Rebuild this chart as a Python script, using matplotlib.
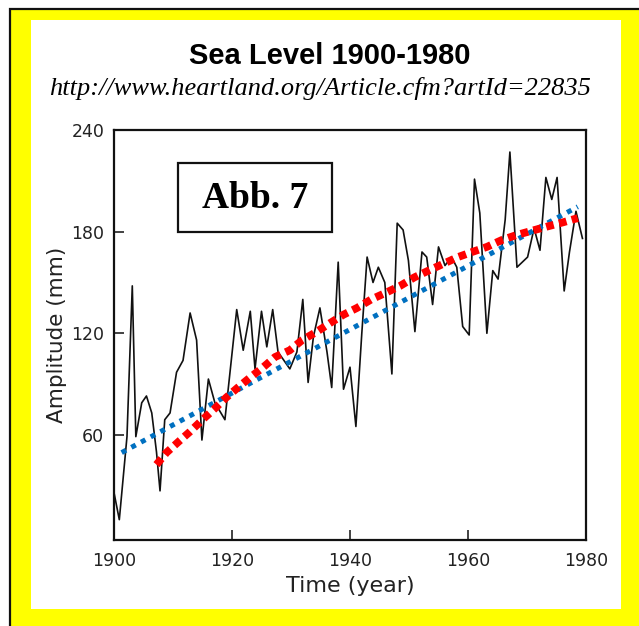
import matplotlib
matplotlib.use("Agg")
import matplotlib.pyplot as plt
from matplotlib.patches import Rectangle

# sea level record (year, mm)
years = [1900.0, 1900.9, 1902.2, 1903.1, 1903.7, 1904.7, 1905.5, 1906.4, 1907.2, 1907.8,
         1908.6, 1909.5, 1910.6, 1911.7, 1912.9, 1914.0, 1914.9, 1916.0, 1917.1, 1918.8,
         1920.8, 1921.9, 1923.1, 1923.9, 1925.0, 1925.9, 1926.9, 1927.8, 1929.8, 1931.0,
         1932.0, 1932.9, 1933.8, 1934.9, 1936.1, 1936.9, 1938.0, 1938.9, 1940.0, 1941.0,
         1942.0, 1942.9, 1943.9, 1944.8, 1945.9, 1947.1, 1948.0, 1949.0, 1949.9, 1951.0,
         1952.2, 1953.0, 1954.0, 1955.0, 1956.1, 1957.2, 1958.1, 1959.1, 1960.2, 1961.1,
         1962.0, 1963.2, 1964.2, 1965.1, 1966.3, 1967.1, 1968.3, 1970.1, 1971.2, 1972.2,
         1973.2, 1974.2, 1975.1, 1976.3, 1977.2, 1978.3, 1979.4]
level = [26, 10, 59, 148, 59, 79, 83, 73, 50, 27,
         69, 73, 97, 104, 132, 116, 57, 93, 79, 69,
         134, 110, 133, 99, 133, 112, 134, 109, 99, 109,
         140, 91, 118, 135, 109, 88, 162, 87, 100, 65,
         120, 165, 150, 159, 150, 96, 185, 181, 163, 121,
         168, 165, 137, 171, 160, 165, 159, 124, 119, 211,
         191, 120, 157, 152, 187, 227, 159, 165, 182, 169,
         212, 199, 212, 145, 168, 192, 176]

# linear trend (blue)
lin_years = [1901.3, 1978.6]
lin_level = [49.6, 194.7]

# curved trend (red)
curve_years = [1907.2, 1908.9, 1911.0, 1912.9, 1915.0, 1916.9, 1919.0, 1921.0, 1923.1, 1925.3,
               1927.3, 1929.8, 1931.9, 1934.4, 1936.6, 1938.9, 1941.2, 1943.6, 1946.1, 1948.5,
               1950.9, 1953.3, 1955.8, 1958.3, 1960.7, 1963.2, 1965.7, 1968.2, 1970.8, 1973.4,
               1976.0, 1978.6]
curve_level = [42.5, 49.6, 56.2, 62, 69, 75, 82, 88, 94, 100,
               106, 110, 116, 121, 126, 131, 135, 140, 144, 148,
               153, 157, 161, 165, 168, 171, 175, 178, 180.5, 183,
               185.4, 188]

xticks = [1900, 1920, 1940, 1960, 1980]
yticks = [60, 120, 180, 240]

W, H = 639, 626
fig = plt.figure(figsize=(W / 100, H / 100), dpi=100, facecolor="white")


def box(x0, y0, w, h, **kw):
    # rectangle given in pixels from top-left
    r = Rectangle((x0 / W, 1 - (y0 + h) / H), w / W, h / H, transform=fig.transFigure, **kw)
    fig.add_artist(r)


# yellow frame with black border on top/left, white panel inside
box(10, 9, 640, 630, facecolor="#ffff00", edgecolor="#111111", linewidth=1.6, zorder=0)
box(31, 20, 590, 589, facecolor="white", edgecolor="none", zorder=0)

ax = fig.add_axes((114 / W, 1 - 540 / H, 472 / W, 410 / H))
ax.set_facecolor("none")
ax.plot(years, level, color="#111111", linewidth=1.2, zorder=2)
ax.plot(lin_years, lin_level, color="#0070c0", linewidth=3.6, dashes=(1, 1.2),
        dash_capstyle="butt", zorder=3)
ax.plot(curve_years, curve_level, color="#ff0000", linewidth=5.6, dashes=(1, 0.7),
        dash_capstyle="butt", zorder=4)

ax.set_xlim(1900, 1980)
ax.set_ylim(-2, 240)
ax.set_xticks(xticks)
ax.set_yticks(yticks)
ax.tick_params(direction="in", length=7, width=1.2, colors="#222222", labelsize=12.5)
ax.tick_params(axis="x", pad=9)
ax.tick_params(axis="y", pad=7)
for s in ax.spines.values():
    s.set_linewidth(1.6)
    s.set_color("#111111")
ax.set_xlabel("Time (year)", fontsize=16, color="#222222", labelpad=4)
ax.set_ylabel("Amplitude (mm)", fontsize=15.5, color="#222222", labelpad=3)

fig.text(330 / W, 1 - 56 / H, "Sea Level 1900-1980", ha="center", va="center",
         family="Liberation Sans", fontweight="bold", fontsize=21)
fig.text(320 / W, 1 - 88 / H, "http://www.heartland.org/Article.cfm?artId=22835", ha="center",
         va="center", family="Liberation Serif", style="italic", fontsize=19)

# "Abb. 7" label box
box(178, 163, 154, 69, facecolor="white", edgecolor="#111111", linewidth=1.6, zorder=5)
fig.text(255 / W, 1 - 198 / H, "Abb. 7", ha="center", va="center", family="Liberation Serif",
         fontweight="bold", fontsize=27, zorder=6)

fig.savefig("out.png", dpi=100, facecolor=fig.get_facecolor())
